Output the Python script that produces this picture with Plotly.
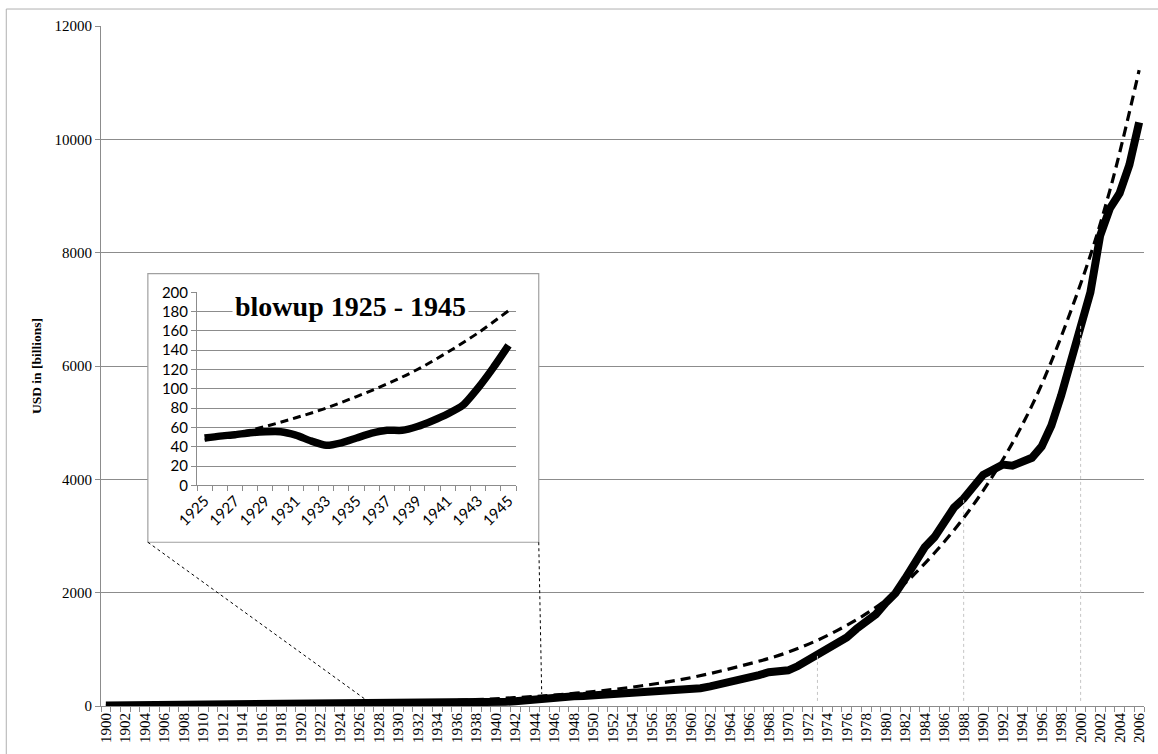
import plotly.graph_objects as go

# ---- data -------------------------------------------------------------
years = list(range(1900, 2007))
usd_billions = [
    10, 11, 12, 12.5, 13, 14, 15, 16, 16, 17.5,            # 1900-1909
    19, 20, 21, 22, 22.5, 24, 28, 32, 35, 40,              # 1910-1919
    44, 42, 43, 46, 47.5, 49, 51, 52.5, 54.5, 55.5,        # 1920-1929
    55.5, 52, 46, 41.5, 44, 49, 54, 57, 57, 61,            # 1930-1939
    67, 74, 83, 101, 122, 145, 157, 166, 172, 176,         # 1940-1949
    185, 195, 207, 217, 228, 240, 250, 260, 270, 285,      # 1950-1959
    298, 315, 345, 380, 420, 460, 495, 545, 595, 615,      # 1960-1969
    630, 705, 800, 910, 990, 1080, 1210, 1360, 1480, 1620, # 1970-1979
    1820, 1990, 2250, 2560, 2800, 2980, 3250, 3500, 3660, 3880,  # 1980-1989
    4080, 4170, 4260, 4240, 4300, 4380, 4580, 4950, 5480, 6100,  # 1990-1999
    6750, 7300, 8300, 8780, 9050, 9550, 10300,             # 2000-2006
]

# exponential trend line, read at selected years
trend_years = [1900, 1905, 1910, 1915, 1920, 1925, 1927, 1929, 1931, 1933,
               1935, 1937, 1939, 1941, 1943, 1945, 1950, 1955, 1960, 1965,
               1970, 1975, 1980, 1985, 1990, 1995, 2000, 2003, 2006]
trend_values = [8.6, 12, 16.7, 23.5, 33, 47, 53.5, 61, 70, 80,
                92, 105, 120, 138, 158, 181, 254, 357, 500, 700,
                950, 1330, 1870, 2700, 3800, 5300, 7450, 9100, 11220]

marker_years = [1973, 1988, 2000]

inset_first, inset_last = 1925, 1945

main_tick_years = list(range(1900, 2007, 2))
inset_tick_years = list(range(1925, 1946, 2))

y_title = "USD in [billions]"
inset_title = "blowup 1925 - 1945"

# ---- page geometry (pixels) ------------------------------------------
W, H = 1158, 754
PL, PR, PT, PB = 101, 1147, 26, 707  # main plot area


def px(x):
    return (x - PL) / (PR - PL)


def py(y):
    return (PB - y) / (PB - PT)


GRID = "#8c8c8c"
SERIF = "Liberation Serif"
SANS = "Lato"

fig = go.Figure()

# main series
fig.add_trace(go.Scatter(
    x=years, y=usd_billions, mode="lines",
    line=dict(color="black", width=8), xaxis="x", yaxis="y",
    hoverinfo="skip", showlegend=False))
fig.add_trace(go.Scatter(
    x=trend_years, y=trend_values, mode="lines",
    line=dict(color="black", width=3.2, dash="10px,6px", shape="spline"),
    xaxis="x", yaxis="y", hoverinfo="skip", showlegend=False))

# white panel behind the inset (own subplot so it covers the main grid)
fig.add_trace(go.Scatter(x=[0], y=[0], mode="none", xaxis="x2", yaxis="y2",
                         hoverinfo="skip", showlegend=False))

# inset series
inset_years = [y for y in years if inset_first <= y <= inset_last]
inset_vals = [v for y, v in zip(years, usd_billions) if inset_first <= y <= inset_last]
inset_ty = [y for y in trend_years if inset_first <= y <= inset_last]
inset_tv = [v for y, v in zip(trend_years, trend_values) if inset_first <= y <= inset_last]
fig.add_trace(go.Scatter(
    x=inset_ty, y=inset_tv, mode="lines",
    line=dict(color="black", width=3, dash="8px,5px", shape="spline"),
    xaxis="x3", yaxis="y3", hoverinfo="skip", showlegend=False))
fig.add_trace(go.Scatter(
    x=inset_years, y=inset_vals, mode="lines",
    line=dict(color="black", width=7.5, shape="spline", smoothing=0.6),
    xaxis="x3", yaxis="y3", hoverinfo="skip", showlegend=False))

shapes = []
# outer chart frame
shapes.append(dict(type="rect", xref="paper", yref="paper",
                   x0=px(6), y0=py(800), x1=px(1200), y1=py(9),
                   line=dict(color="#b0b0b0", width=1), layer="below"))
# inset frame
shapes.append(dict(type="rect", xref="paper", yref="paper",
                   x0=px(148), y0=py(543), x1=px(540), y1=py(274),
                   line=dict(color="#a0a0a0", width=1.2), layer="above"))
# connectors from the inset to the blown-up range
shapes.append(dict(type="line", xref="paper", yref="paper",
                   x0=px(148), y0=py(543), x1=px(367), y1=py(701),
                   line=dict(color="black", width=1, dash="dot"), layer="above"))
shapes.append(dict(type="line", xref="paper", yref="paper",
                   x0=px(540), y0=py(543), x1=px(543), y1=py(695),
                   line=dict(color="black", width=1, dash="dot"), layer="above"))
# light guides from marked years down to the axis
for yr in marker_years:
    val = usd_billions[years.index(yr)]
    shapes.append(dict(type="line", xref="x", yref="y",
                       x0=yr, x1=yr, y0=90, y1=val,
                       line=dict(color="#c4c4c4", width=1, dash="dot"),
                       layer="above"))

fig.update_layout(
    width=W, height=H,
    margin=dict(l=PL, r=W - PR, t=PT, b=H - PB, pad=0),
    paper_bgcolor="white", plot_bgcolor="white",
    showlegend=False,
    shapes=shapes,
    xaxis=dict(
        domain=[0, 1], anchor="y",
        range=[1899.5, 2006.5], tickmode="array",
        tickvals=main_tick_years, ticktext=[str(y) for y in main_tick_years],
        tickangle=-90, ticks="", showgrid=False, zeroline=False,
        showline=True, linecolor=GRID, linewidth=1,
        tickfont=dict(family=SERIF, size=15, color="black"),
        minor=dict(tick0=1899.5, dtick=1, ticks="outside", ticklen=5,
                   tickcolor=GRID, tickwidth=1, showgrid=False),
    ),
    yaxis=dict(
        domain=[0, 1], anchor="x",
        range=[0, 12000], dtick=2000, tick0=0, tickformat="d",
        ticks="outside", ticklen=5, tickcolor=GRID,
        showgrid=True, gridcolor=GRID, gridwidth=1.2, zeroline=False,
        showline=True, linecolor=GRID, linewidth=1,
        tickfont=dict(family=SERIF, size=15, color="black"),
        title=dict(text=f"<b>{y_title}</b>",
                   font=dict(family=SERIF, size=13.5, color="black"),
                   standoff=9),
    ),
    xaxis2=dict(domain=[px(148), px(540)], anchor="y2", range=[0, 1],
                visible=False, fixedrange=True),
    yaxis2=dict(domain=[py(543), py(274)], anchor="x2", range=[0, 1],
                visible=False, fixedrange=True),
    xaxis3=dict(
        domain=[px(197.3), px(517.3)], anchor="y3",
        range=[inset_first - 0.5, inset_last + 0.5], tickmode="array",
        tickvals=inset_tick_years, ticktext=[str(y) for y in inset_tick_years],
        tickangle=-45, ticks="", showgrid=False, zeroline=False,
        showline=True, linecolor=GRID, linewidth=1,
        tickfont=dict(family=SANS, size=15, color="black"),
        minor=dict(tick0=inset_first - 0.5, dtick=1, ticks="outside", ticklen=5,
                   tickcolor=GRID, tickwidth=1, showgrid=False),
    ),
    yaxis3=dict(
        domain=[py(486), py(292.7)], anchor="x3",
        range=[0, 200], dtick=20, tick0=0,
        ticks="outside", ticklen=5, tickcolor=GRID,
        showgrid=True, gridcolor=GRID, gridwidth=1, zeroline=False,
        showline=True, linecolor=GRID, linewidth=1,
        tickfont=dict(family=SANS, size=15, color="black"),
    ),
    annotations=[dict(
        text=f"<b>{inset_title}</b>", xref="paper", yref="paper",
        x=px(351), y=py(307), xanchor="center", yanchor="middle",
        showarrow=False, bgcolor="white", borderpad=2,
        font=dict(family=SERIF, size=28, color="black"),
    )],
)

fig.write_html("out.html")
